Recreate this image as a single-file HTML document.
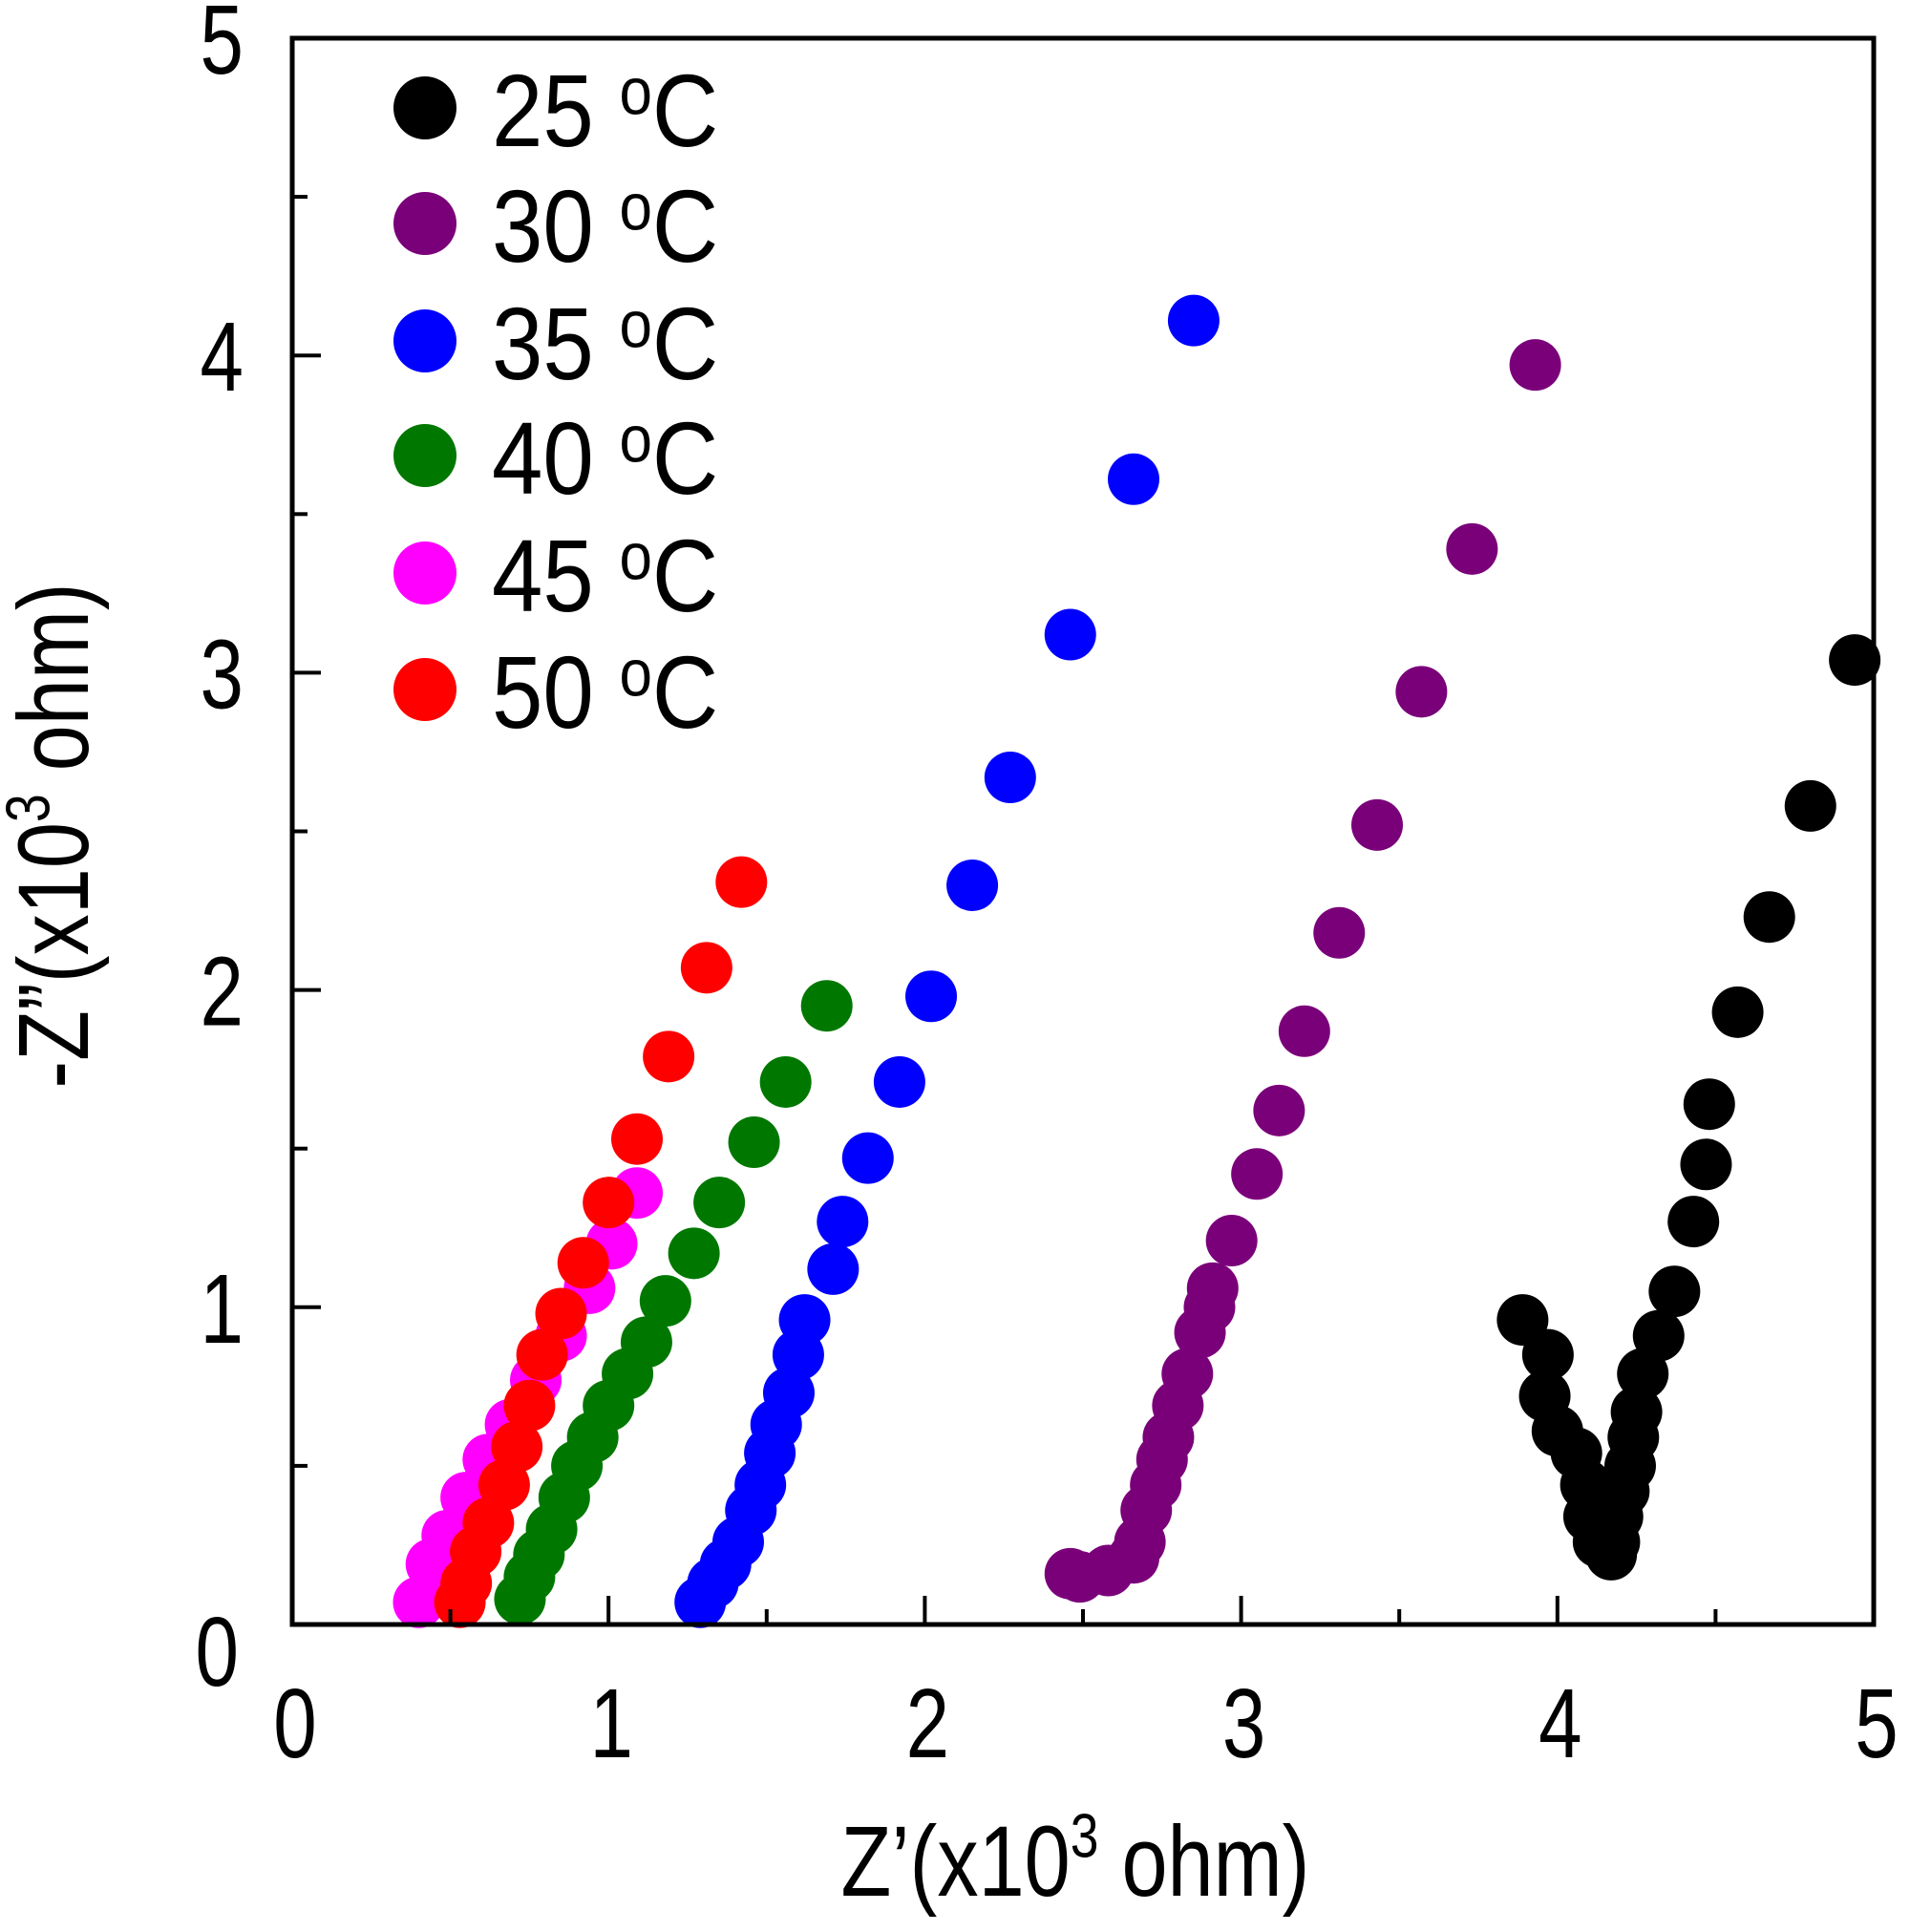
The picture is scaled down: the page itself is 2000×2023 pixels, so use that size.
<!DOCTYPE html>
<html><head><meta charset="utf-8"><style>
html,body{margin:0;padding:0;background:#fff}
svg{display:block}
text{font-family:"Liberation Sans",Arial,sans-serif;fill:#000}
</style></head><body>
<svg id="chart" width="2000" height="2023" viewBox="0 0 2000 2023" xmlns="http://www.w3.org/2000/svg">
<g id="marks"></g>
<g id="axes"></g>
<g id="legend"></g>
<text transform="translate(1126,1985) scale(0.92,1.12)" font-size="94" text-anchor="middle">Z’(x10<tspan font-size="58" dy="-36">3</tspan><tspan dy="36"> ohm)</tspan></text>
<text transform="translate(92,875) rotate(-90) scale(0.92,1.12)" font-size="94" text-anchor="middle">-Z”(x10<tspan font-size="58" dy="-36">3</tspan><tspan dy="36"> ohm)</tspan></text>
</svg>
<script>
const seriesNames = ["25 °C","30 °C","35 °C","40 °C","45 °C","50 °C"];
const seriesColors = ["#000000","#7a007a","#0000ff","#007800","#ff00ff","#ff0000"];
const x25 = [4.94,4.80,4.67,4.57,4.48,4.47,4.43,4.37,4.32,4.27,4.25,4.24,4.23,4.21,4.19,4.18,4.17,3.89,3.97,3.96,4.00,4.06,4.09,4.10,4.13];
const y25 = [3.04,2.58,2.23,1.93,1.64,1.45,1.27,1.05,0.91,0.79,0.67,0.59,0.50,0.42,0.34,0.26,0.22,0.96,0.85,0.72,0.61,0.54,0.44,0.34,0.26];
const x30 = [3.93,3.73,3.57,3.43,3.31,3.20,3.12,3.05,2.97,2.91,2.90,2.87,2.83,2.80,2.77,2.75,2.73,2.70,2.68,2.66,2.58,2.49,2.46];
const y30 = [3.97,3.39,2.94,2.52,2.18,1.87,1.62,1.42,1.21,1.06,1.00,0.92,0.79,0.69,0.59,0.52,0.44,0.36,0.26,0.21,0.17,0.15,0.16];
const x35 = [2.85,2.66,2.46,2.27,2.15,2.02,1.92,1.82,1.74,1.71,1.62,1.60,1.57,1.53,1.51,1.48,1.45,1.41,1.37,1.33,1.29];
const y35 = [4.11,3.61,3.12,2.67,2.33,1.98,1.71,1.47,1.27,1.12,0.96,0.85,0.73,0.63,0.54,0.44,0.36,0.26,0.19,0.13,0.07];
const x40 = [1.69,1.56,1.46,1.35,1.27,1.18,1.12,1.06,1.00,0.95,0.90,0.86,0.82,0.78,0.75,0.72];
const y40 = [1.95,1.71,1.52,1.33,1.17,1.02,0.89,0.79,0.69,0.59,0.50,0.40,0.30,0.22,0.15,0.08];
const x45 = [1.09,1.01,0.94,0.85,0.77,0.69,0.62,0.55,0.49,0.44,0.40];
const y45 = [1.36,1.20,1.06,0.91,0.77,0.63,0.52,0.40,0.28,0.19,0.07];
const x50 = [1.42,1.31,1.19,1.09,1.00,0.92,0.85,0.79,0.75,0.71,0.67,0.62,0.58,0.55,0.53];
const y50 = [2.34,2.07,1.79,1.53,1.33,1.14,0.98,0.85,0.69,0.56,0.44,0.32,0.23,0.13,0.07];
const tickLabels = ["0","1","2","3","4","5"];
const tickValues = [0,1,2,3,4,5];

const NS="http://www.w3.org/2000/svg";
const X0=306,X1=1962,Y0=1701,Y1=40;
function sx(v){return X0+(X1-X0)*v/5;}
function sy(v){return Y0-(Y0-Y1)*v/5;}
function mk(tag,attrs,parent){const e=document.createElementNS(NS,tag);for(const k in attrs)e.setAttribute(k,attrs[k]);parent.appendChild(e);return e;}
const marks=document.getElementById('marks');
const allX=[x25,x30,x35,x40,x45,x50], allY=[y25,y30,y35,y40,y45,y50];
allX.forEach((xs,si)=>{
  const g=mk('g',{},marks);
  
  
  xs.forEach((xv,i)=>{
    const c=mk('circle',{cx:sx(xv),cy:sy(allY[si][i]),r:27,fill:seriesColors[si]},g);
    
    
  });
});
const axes=document.getElementById('axes');
const frame=mk('rect',{x:X0,y:Y1,width:X1-X0,height:Y0-Y1,fill:'none',stroke:'#000','stroke-width':5},axes);


for(let v=0.5;v<5;v+=0.5){
  const major=Math.abs(v-Math.round(v))<1e-6;
  const len=major?30:16;
  const tx=mk('line',{x1:sx(v),x2:sx(v),y1:Y0,y2:Y0-len,stroke:'#000','stroke-width':4},axes);
  
  
  const ty=mk('line',{x1:X0,x2:X0+len,y1:sy(v),y2:sy(v),stroke:'#000','stroke-width':4},axes);
  
  
}
tickValues.forEach((v,i)=>{
  const t=mk('text',{transform:'translate('+(sx(v)+3)+',1840) scale(0.95,1.2)','font-size':86,'text-anchor':'middle'},axes);
  t.textContent=tickLabels[i];
  
  
  const yy = v===0 ? 1765 : sy(v)+37;
  const xx = v===0 ? 250 : 255;
  const u=mk('text',{transform:'translate('+xx+','+yy+') scale(0.95,1.2)','font-size':86,'text-anchor':'end'},axes);
  u.textContent=tickLabels[i];
  
  
});
const legend=document.getElementById('legend');
const legY=[113,234,357,477,600,722];
seriesNames.forEach((n,i)=>{
  const g=mk('g',{},legend);
  
  
  mk('circle',{cx:445,cy:legY[i],r:33,fill:seriesColors[i]},g);
  const t=mk('text',{transform:'translate(515,'+(legY[i]+40)+') scale(1,1.12)','font-size':96},g);
  const parts=n.split(' ');
  t.textContent=parts[0]+' ';
  const s=mk('tspan',{'font-size':62,dy:-30},t); s.textContent='o';
  const c=mk('tspan',{dy:30},t); c.textContent='C';
});
</script>
</body></html>
